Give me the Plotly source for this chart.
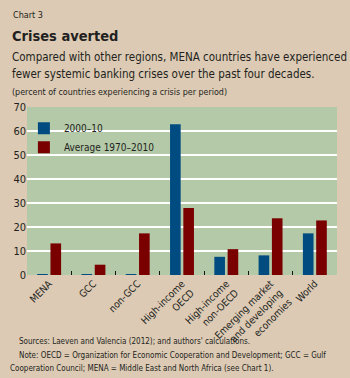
import plotly.graph_objects as go

categories = ["MENA", "GCC", "non-GCC", "High-income<br>OECD", "High-income<br>non-OECD",
              "Emerging market<br>and developing<br>economies", "World"]
series_2000_10 = [0.3, 0.3, 0.3, 63.0, 7.6, 8.2, 17.4]
series_avg = [13.2, 4.3, 17.4, 28.0, 10.8, 23.7, 22.8]
name_a = "2000–10"
name_b = "Average 1970–2010"

FONT = "DejaVu Sans Condensed"
BG = "#dccab4"
PLOT = "#b3c9a8"
INK = "#231f20"

fig = go.Figure()
fig.add_trace(go.Bar(x=categories, y=series_2000_10, name=name_a,
                     marker=dict(color="#004b80", line=dict(width=0))))
fig.add_trace(go.Bar(x=categories, y=series_avg, name=name_b,
                     marker=dict(color="#7a0000", line=dict(width=0))))

W, H = 350, 378
L, R, T, B = 27, 13, 107, 103

fig.update_layout(
    width=W, height=H,
    margin=dict(l=L, r=R, t=T, b=B, pad=0),
    paper_bgcolor=BG, plot_bgcolor=PLOT,
    font=dict(family=FONT, size=11, color=INK),
    barmode="group", bargap=0.4, bargroupgap=0.2,
    showlegend=True,
    legend=dict(x=-0.01, y=0.96, xanchor="left", yanchor="top",
                bgcolor="rgba(0,0,0,0)", font=dict(family=FONT, size=10, color=INK),
                itemwidth=30, tracegroupgap=0, traceorder="normal"),
    xaxis=dict(tickson="boundaries", ticks="inside", ticklen=4, tickcolor="#111",
               tickangle=-45, tickfont=dict(family=FONT, size=10, color=INK),
               showgrid=False, showline=False, zeroline=False),
    yaxis=dict(range=[0, 70.2], tickvals=[0, 10, 20, 30, 40, 50, 60, 70],
               showgrid=True, gridcolor="white", gridwidth=1.5,
               zeroline=False, showline=False, ticks="", tickfont=dict(family=FONT, size=11, color=INK),
               ticksuffix=" "),
)

def pann(text, px, py, size, bold=False):
    pw = W - L - R
    ph = H - T - B
    fig.add_annotation(text=("<b>%s</b>" % text) if bold else text,
                       x=(px - L) / pw, y=(H - B - py) / ph,
                       xref="paper", yref="paper", xanchor="left", yanchor="middle",
                       showarrow=False, font=dict(family=FONT, size=size, color=INK))

pann("Chart 3", 11, 15, 9)
pann("Crises averted", 10, 36, 14.5, bold=True)
pann("Compared with other regions, MENA countries have experienced", 10, 57, 11.5)
pann("fewer systemic banking crises over the past four decades.", 10, 74, 11.5)
pann("(percent of countries experiencing a crisis per period)", 10, 92, 8.9)
pann("Sources: Laeven and Valencia (2012); and authors' calculations.", 17, 341, 8)
pann("Note: OECD = Organization for Economic Cooperation and Development; GCC = Gulf", 17, 355, 8)
pann("Cooperation Council; MENA = Middle East and North Africa (see Chart 1).", 8, 368, 8)

fig.write_html("out.html")
